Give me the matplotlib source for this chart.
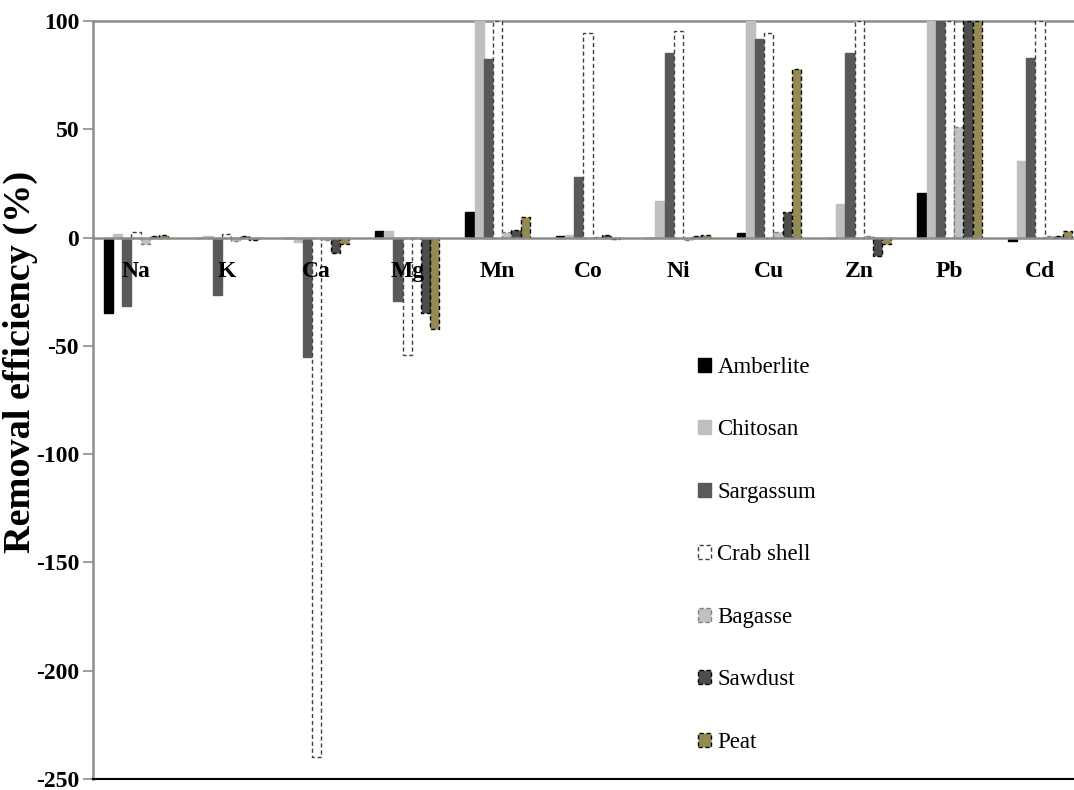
import numpy as np
import matplotlib
matplotlib.use('Agg')
import matplotlib.pyplot as plt
from matplotlib.patches import Patch

plt.rcParams['font.family'] = ['Liberation Serif', 'DejaVu Serif']
plt.rcParams['axes.unicode_minus'] = False

metals = ['Na', 'K', 'Ca', 'Mg', 'Mn', 'Co', 'Ni', 'Cu', 'Zn', 'Pb', 'Cd']
sorbents = ['Amberlite', 'Chitosan', 'Sargassum', 'Crab shell', 'Bagasse', 'Sawdust', 'Peat']

amberlite = [-35, 0, 0, 3, 12, 0.8, 0, 2.3, 0, 20.5, -1.5]
chitosan = [1.5, 0.5, -2, 3, 100, 1.2, 17, 100, 15.4, 100, 35.5]
sargassum = [-31.6, -26.5, -55, -29.5, 82.6, 28, 85, 91.8, 85, 100, 83]
crab_shell = [2.5, 1.5, -240, -54, 100, 94.6, 95.6, 94.6, 100, 100, 100]
bagasse = [-2.8, -1.7, -1, 0, 2.8, 0.3, -1, 2.8, 0.8, 51, 0.5]
sawdust = [0.5, 0.5, -7, -35, 3.6, 1, 0.5, 11.9, -8.5, 100, 0.5]
peat = [1, -1, -3, -42, 9.7, -0.5, 1.2, 78, -2.9, 100, 3.2]

series = [amberlite, chitosan, sargassum, crab_shell, bagasse, sawdust, peat]

# fill, edge, linestyle
styles = [
    ('#000000', '#000000', 'solid'),
    ('#bfbfbf', '#bfbfbf', 'solid'),
    ('#595959', '#595959', 'solid'),
    ('#ffffff', '#404040', (0, (3, 2))),
    ('#c0c0c0', '#7f7f7f', (0, (3, 2))),
    ('#4d4d4d', '#000000', (0, (3, 2))),
    ('#948a54', '#000000', (0, (3, 2))),
]

fig = plt.figure(figsize=(10.74, 7.9), dpi=100)
ax = fig.add_axes([93 / 1074, 11 / 790, 1 - 93 / 1074, 1 - 21 / 790 - 11 / 790])

x = np.arange(len(metals))
w = 0.102
handles = []
for j, (vals, name) in enumerate(zip(series, sorbents)):
    fc, ec, ls = styles[j]
    ax.bar(x + (j - 3) * w, vals, width=w, color=fc, edgecolor=ec,
           linestyle=ls, linewidth=1.0, zorder=3)
    handles.append(Patch(facecolor=fc, edgecolor=ec, linestyle=ls,
                         linewidth=1.0, label=name))

ax.set_xlim(-0.4757, 10.376)
ax.set_ylim(-250, 100)
ax.axhline(0, color='#8c8c8c', lw=1.8, zorder=4)

for i, m in enumerate(metals):
    ax.text(i, -15.5, m, ha='center', va='center', fontsize=17,
            fontweight='bold', zorder=5)

ax.set_xticks([])
ax.set_yticks(np.arange(-250, 101, 50))
ax.tick_params(axis='y', direction='out', length=7, width=1.2,
               color='#8c8c8c', pad=3, labelsize=17)
for t in ax.get_yticklabels():
    t.set_fontweight('bold')

ax.spines['right'].set_visible(False)
ax.spines['left'].set_color('#8c8c8c')
ax.spines['left'].set_linewidth(1.8)
ax.spines['top'].set_color('#8c8c8c')
ax.spines['top'].set_linewidth(1.8)
ax.spines['bottom'].set_color('#000000')
ax.spines['bottom'].set_linewidth(1.5)

fig.text(20 / 1074, 1 - 362 / 790, 'Removal efficiency (%)', rotation=90,
         ha='center', va='center', fontsize=27.5, fontweight='bold')

ax.legend(handles=handles, loc='upper left',
          bbox_to_anchor=(698 / 1074, 1 - 357 / 790),
          bbox_transform=fig.transFigure, frameon=False, fontsize=16.5,
          handlelength=0.55, handleheight=0.55, handletextpad=0.3,
          labelspacing=1.81, borderpad=0, borderaxespad=0)

fig.savefig('out.png', dpi=100)
